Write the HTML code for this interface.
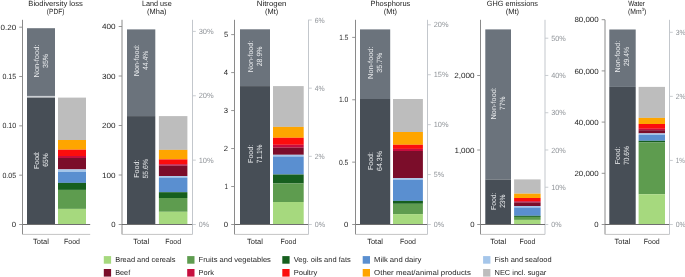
<!DOCTYPE html>
<html><head><meta charset="utf-8"><style>
html,body{margin:0;padding:0;background:#fff;}
body{width:685px;height:277px;overflow:hidden;}
svg{display:block;font-family:'Liberation Sans',sans-serif;will-change:transform;text-rendering:geometricPrecision;}
</style></head><body>
<svg width="685" height="277" viewBox="0 0 685 277" style="font-family:'Liberation Sans',sans-serif">
<rect width="685" height="277" fill="#fff"/>
<line x1="22.5" y1="19.8" x2="22.5" y2="234.4" stroke="#8a8a8a" stroke-width="1"/>
<line x1="22.5" y1="234.4" x2="90.2" y2="234.4" stroke="#c4c4c4" stroke-width="1"/>
<rect x="27" y="28.2" width="28.00" height="67.80" fill="#6b737c"/>
<rect x="27" y="95.9" width="28.00" height="1.7" fill="#cbcfd3"/>
<rect x="27" y="97.6" width="28.00" height="126.90" fill="#474e56"/>
<rect x="58" y="97.6" width="28.00" height="42.40" fill="#bdbdbd"/>
<rect x="58" y="140" width="28.00" height="9.70" fill="#fea500"/>
<rect x="58" y="149.7" width="28.00" height="6.30" fill="#fc0d0d"/>
<rect x="58" y="156" width="28.00" height="2.00" fill="#c70d3e"/>
<rect x="58" y="158" width="28.00" height="11.40" fill="#7b0d2a"/>
<rect x="58" y="169.4" width="28.00" height="2.50" fill="#a5c6ea"/>
<rect x="58" y="171.9" width="28.00" height="11.00" fill="#5a8fd0"/>
<rect x="58" y="182.9" width="28.00" height="7.00" fill="#165f1e"/>
<rect x="58" y="189.9" width="28.00" height="19.00" fill="#5e9c4f"/>
<rect x="58" y="208.9" width="28.00" height="15.60" fill="#a6d97e"/>
<line x1="22.5" y1="224.5" x2="90.2" y2="224.5" stroke="#6f6f6f" stroke-width="1"/>
<line x1="19.2" y1="27.2" x2="22.5" y2="27.2" stroke="#8a8a8a" stroke-width="0.9"/>
<text x="16.10" y="29.80" font-size="7.5" fill="#1e1e1e" text-anchor="end" textLength="15.6" lengthAdjust="spacingAndGlyphs">0.20</text>
<line x1="19.2" y1="76.525" x2="22.5" y2="76.525" stroke="#8a8a8a" stroke-width="0.9"/>
<text x="16.10" y="79.12" font-size="7.5" fill="#1e1e1e" text-anchor="end" textLength="13.7" lengthAdjust="spacingAndGlyphs">0.15</text>
<line x1="19.2" y1="125.85000000000001" x2="22.5" y2="125.85000000000001" stroke="#8a8a8a" stroke-width="0.9"/>
<text x="16.10" y="128.45" font-size="7.5" fill="#1e1e1e" text-anchor="end" textLength="13.7" lengthAdjust="spacingAndGlyphs">0.10</text>
<line x1="19.2" y1="175.175" x2="22.5" y2="175.175" stroke="#8a8a8a" stroke-width="0.9"/>
<text x="16.10" y="177.78" font-size="7.5" fill="#1e1e1e" text-anchor="end" textLength="13.7" lengthAdjust="spacingAndGlyphs">0.05</text>
<line x1="19.2" y1="224.5" x2="22.5" y2="224.5" stroke="#8a8a8a" stroke-width="0.9"/>
<text x="16.10" y="227.10" font-size="7.5" fill="#1e1e1e" text-anchor="end" textLength="4.3" lengthAdjust="spacingAndGlyphs">0</text>
<text x="55.60" y="5.90" font-size="7.5" fill="#222" text-anchor="middle" textLength="54.6" lengthAdjust="spacingAndGlyphs">Biodiversity loss</text>
<text x="55.60" y="13.90" font-size="7.5" fill="#222" text-anchor="middle" textLength="17.5" lengthAdjust="spacingAndGlyphs">(PDF)</text>
<text x="41.00" y="243.60" font-size="7.5" fill="#262626" text-anchor="middle" textLength="15.8" lengthAdjust="spacingAndGlyphs">Total</text>
<text x="72.00" y="243.60" font-size="7.5" fill="#262626" text-anchor="middle" textLength="15.9" lengthAdjust="spacingAndGlyphs">Food</text>
<g transform="translate(38.70,61.00) rotate(-90)"><text x="0" y="0" font-size="7.2" fill="#eceef0" text-anchor="middle" textLength="33.0" lengthAdjust="spacingAndGlyphs">Non-food:</text></g>
<g transform="translate(47.60,61.00) rotate(-90)"><text x="0" y="0" font-size="7.5" fill="#eceef0" text-anchor="middle" textLength="14.00" lengthAdjust="spacingAndGlyphs">35%</text></g>
<g transform="translate(38.70,160.10) rotate(-90)"><text x="0" y="0" font-size="7.2" fill="#eceef0" text-anchor="middle" textLength="17.8" lengthAdjust="spacingAndGlyphs">Food:</text></g>
<g transform="translate(47.60,160.10) rotate(-90)"><text x="0" y="0" font-size="7.5" fill="#eceef0" text-anchor="middle" textLength="13.21" lengthAdjust="spacingAndGlyphs">65%</text></g>
<line x1="122.0" y1="19.8" x2="122.0" y2="234.4" stroke="#8a8a8a" stroke-width="1"/>
<line x1="122.0" y1="234.4" x2="192.5" y2="234.4" stroke="#c4c4c4" stroke-width="1"/>
<line x1="192.5" y1="19.8" x2="192.5" y2="234.4" stroke="#c3c7cc" stroke-width="1"/>
<rect x="127" y="29.4" width="28.30" height="86.70" fill="#6b737c"/>
<rect x="127" y="116.1" width="28.30" height="108.40" fill="#474e56"/>
<rect x="158.9" y="116.1" width="28.50" height="33.80" fill="#bdbdbd"/>
<rect x="158.9" y="149.9" width="28.50" height="9.50" fill="#fea500"/>
<rect x="158.9" y="159.4" width="28.50" height="4.80" fill="#fc0d0d"/>
<rect x="158.9" y="164.2" width="28.50" height="1.40" fill="#c70d3e"/>
<rect x="158.9" y="165.6" width="28.50" height="10.50" fill="#7b0d2a"/>
<rect x="158.9" y="176.1" width="28.50" height="1.50" fill="#a5c6ea"/>
<rect x="158.9" y="177.6" width="28.50" height="14.60" fill="#5a8fd0"/>
<rect x="158.9" y="192.2" width="28.50" height="5.80" fill="#165f1e"/>
<rect x="158.9" y="198" width="28.50" height="13.80" fill="#5e9c4f"/>
<rect x="158.9" y="211.8" width="28.50" height="12.70" fill="#a6d97e"/>
<line x1="122.0" y1="224.5" x2="192.5" y2="224.5" stroke="#6f6f6f" stroke-width="1"/>
<line x1="118.7" y1="26.5" x2="122.0" y2="26.5" stroke="#8a8a8a" stroke-width="0.9"/>
<text x="115.60" y="29.10" font-size="7.5" fill="#1e1e1e" text-anchor="end" textLength="13.6" lengthAdjust="spacingAndGlyphs">400</text>
<line x1="118.7" y1="76.0" x2="122.0" y2="76.0" stroke="#8a8a8a" stroke-width="0.9"/>
<text x="115.60" y="78.60" font-size="7.5" fill="#1e1e1e" text-anchor="end" textLength="13.6" lengthAdjust="spacingAndGlyphs">300</text>
<line x1="118.7" y1="125.5" x2="122.0" y2="125.5" stroke="#8a8a8a" stroke-width="0.9"/>
<text x="115.60" y="128.10" font-size="7.5" fill="#1e1e1e" text-anchor="end" textLength="13.6" lengthAdjust="spacingAndGlyphs">200</text>
<line x1="118.7" y1="175.0" x2="122.0" y2="175.0" stroke="#8a8a8a" stroke-width="0.9"/>
<text x="115.60" y="177.60" font-size="7.5" fill="#1e1e1e" text-anchor="end" textLength="13.6" lengthAdjust="spacingAndGlyphs">100</text>
<line x1="118.7" y1="224.5" x2="122.0" y2="224.5" stroke="#8a8a8a" stroke-width="0.9"/>
<text x="115.60" y="227.10" font-size="7.5" fill="#1e1e1e" text-anchor="end" textLength="4.3" lengthAdjust="spacingAndGlyphs">0</text>
<line x1="192.5" y1="31.4" x2="195.8" y2="31.4" stroke="#c3c7cc" stroke-width="0.9"/>
<text x="198.70" y="34.00" font-size="7.5" fill="#909499" text-anchor="start" textLength="15.0" lengthAdjust="spacingAndGlyphs">30%</text>
<line x1="192.5" y1="95.76666666666665" x2="195.8" y2="95.76666666666665" stroke="#c3c7cc" stroke-width="0.9"/>
<text x="198.70" y="98.37" font-size="7.5" fill="#909499" text-anchor="start" textLength="15.0" lengthAdjust="spacingAndGlyphs">20%</text>
<line x1="192.5" y1="160.13333333333333" x2="195.8" y2="160.13333333333333" stroke="#c3c7cc" stroke-width="0.9"/>
<text x="198.70" y="162.73" font-size="7.5" fill="#909499" text-anchor="start" textLength="15.0" lengthAdjust="spacingAndGlyphs">10%</text>
<line x1="192.5" y1="224.49999999999997" x2="195.8" y2="224.49999999999997" stroke="#c3c7cc" stroke-width="0.9"/>
<text x="198.70" y="227.10" font-size="7.5" fill="#909499" text-anchor="start" textLength="10.3" lengthAdjust="spacingAndGlyphs">0%</text>
<text x="156.80" y="5.90" font-size="7.5" fill="#222" text-anchor="middle" textLength="29.8" lengthAdjust="spacingAndGlyphs">Land use</text>
<text x="156.80" y="13.90" font-size="7.5" fill="#222" text-anchor="middle" textLength="19.4" lengthAdjust="spacingAndGlyphs">(Mha)</text>
<text x="141.15" y="243.60" font-size="7.5" fill="#262626" text-anchor="middle" textLength="15.8" lengthAdjust="spacingAndGlyphs">Total</text>
<text x="173.15" y="243.60" font-size="7.5" fill="#262626" text-anchor="middle" textLength="15.9" lengthAdjust="spacingAndGlyphs">Food</text>
<g transform="translate(138.85,60.30) rotate(-90)"><text x="0" y="0" font-size="7.2" fill="#eceef0" text-anchor="middle" textLength="32.0" lengthAdjust="spacingAndGlyphs">Non-food:</text></g>
<g transform="translate(147.75,60.30) rotate(-90)"><text x="0" y="0" font-size="7.5" fill="#eceef0" text-anchor="middle" textLength="19.50" lengthAdjust="spacingAndGlyphs">44.4%</text></g>
<g transform="translate(138.85,168.70) rotate(-90)"><text x="0" y="0" font-size="7.2" fill="#eceef0" text-anchor="middle" textLength="18.0" lengthAdjust="spacingAndGlyphs">Food:</text></g>
<g transform="translate(147.75,168.70) rotate(-90)"><text x="0" y="0" font-size="7.5" fill="#eceef0" text-anchor="middle" textLength="19.50" lengthAdjust="spacingAndGlyphs">55.6%</text></g>
<line x1="234.5" y1="19.8" x2="234.5" y2="234.4" stroke="#8a8a8a" stroke-width="1"/>
<line x1="234.5" y1="234.4" x2="308.5" y2="234.4" stroke="#c4c4c4" stroke-width="1"/>
<line x1="308.5" y1="19.8" x2="308.5" y2="234.4" stroke="#c3c7cc" stroke-width="1"/>
<rect x="240" y="29.3" width="30.00" height="56.80" fill="#6b737c"/>
<rect x="240" y="86.1" width="30.00" height="138.40" fill="#474e56"/>
<rect x="273" y="86.1" width="30.70" height="40.80" fill="#bdbdbd"/>
<rect x="273" y="126.9" width="30.70" height="10.90" fill="#fea500"/>
<rect x="273" y="137.8" width="30.70" height="7.00" fill="#fc0d0d"/>
<rect x="273" y="144.8" width="30.70" height="2.90" fill="#c70d3e"/>
<rect x="273" y="147.7" width="30.70" height="7.10" fill="#7b0d2a"/>
<rect x="273" y="154.8" width="30.70" height="1.70" fill="#a5c6ea"/>
<rect x="273" y="156.5" width="30.70" height="18.00" fill="#5a8fd0"/>
<rect x="273" y="174.5" width="30.70" height="9.00" fill="#165f1e"/>
<rect x="273" y="183.5" width="30.70" height="18.50" fill="#5e9c4f"/>
<rect x="273" y="202" width="30.70" height="22.50" fill="#a6d97e"/>
<line x1="234.5" y1="224.5" x2="308.5" y2="224.5" stroke="#6f6f6f" stroke-width="1"/>
<line x1="231.2" y1="34.6" x2="234.5" y2="34.6" stroke="#8a8a8a" stroke-width="0.9"/>
<text x="228.10" y="37.20" font-size="7.5" fill="#1e1e1e" text-anchor="end" textLength="4.2" lengthAdjust="spacingAndGlyphs">5</text>
<line x1="231.2" y1="72.58000000000001" x2="234.5" y2="72.58000000000001" stroke="#8a8a8a" stroke-width="0.9"/>
<text x="228.10" y="75.18" font-size="7.5" fill="#1e1e1e" text-anchor="end" textLength="4.3" lengthAdjust="spacingAndGlyphs">4</text>
<line x1="231.2" y1="110.56" x2="234.5" y2="110.56" stroke="#8a8a8a" stroke-width="0.9"/>
<text x="228.10" y="113.16" font-size="7.5" fill="#1e1e1e" text-anchor="end" textLength="4.3" lengthAdjust="spacingAndGlyphs">3</text>
<line x1="231.2" y1="148.54000000000002" x2="234.5" y2="148.54000000000002" stroke="#8a8a8a" stroke-width="0.9"/>
<text x="228.10" y="151.14" font-size="7.5" fill="#1e1e1e" text-anchor="end" textLength="4.3" lengthAdjust="spacingAndGlyphs">2</text>
<line x1="231.2" y1="186.52" x2="234.5" y2="186.52" stroke="#8a8a8a" stroke-width="0.9"/>
<text x="228.10" y="189.12" font-size="7.5" fill="#1e1e1e" text-anchor="end" textLength="3.5" lengthAdjust="spacingAndGlyphs">1</text>
<line x1="231.2" y1="224.50000000000003" x2="234.5" y2="224.50000000000003" stroke="#8a8a8a" stroke-width="0.9"/>
<text x="228.10" y="227.10" font-size="7.5" fill="#1e1e1e" text-anchor="end" textLength="4.3" lengthAdjust="spacingAndGlyphs">0</text>
<line x1="308.5" y1="20.0" x2="311.8" y2="20.0" stroke="#c3c7cc" stroke-width="0.9"/>
<text x="314.70" y="22.60" font-size="7.5" fill="#909499" text-anchor="start" textLength="10.0" lengthAdjust="spacingAndGlyphs">6%</text>
<line x1="308.5" y1="88.16666666666667" x2="311.8" y2="88.16666666666667" stroke="#c3c7cc" stroke-width="0.9"/>
<text x="314.70" y="90.77" font-size="7.5" fill="#909499" text-anchor="start" textLength="10.0" lengthAdjust="spacingAndGlyphs">4%</text>
<line x1="308.5" y1="156.33333333333334" x2="311.8" y2="156.33333333333334" stroke="#c3c7cc" stroke-width="0.9"/>
<text x="314.70" y="158.93" font-size="7.5" fill="#909499" text-anchor="start" textLength="10.0" lengthAdjust="spacingAndGlyphs">2%</text>
<line x1="308.5" y1="224.5" x2="311.8" y2="224.5" stroke="#c3c7cc" stroke-width="0.9"/>
<text x="314.70" y="227.10" font-size="7.5" fill="#909499" text-anchor="start" textLength="10.3" lengthAdjust="spacingAndGlyphs">0%</text>
<text x="271.60" y="5.90" font-size="7.5" fill="#222" text-anchor="middle" textLength="29.6" lengthAdjust="spacingAndGlyphs">Nitrogen</text>
<text x="271.60" y="13.90" font-size="7.5" fill="#222" text-anchor="middle" textLength="13.2" lengthAdjust="spacingAndGlyphs">(Mt)</text>
<text x="255.00" y="243.60" font-size="7.5" fill="#262626" text-anchor="middle" textLength="15.8" lengthAdjust="spacingAndGlyphs">Total</text>
<text x="288.35" y="243.60" font-size="7.5" fill="#262626" text-anchor="middle" textLength="15.9" lengthAdjust="spacingAndGlyphs">Food</text>
<g transform="translate(252.70,56.40) rotate(-90)"><text x="0" y="0" font-size="7.2" fill="#eceef0" text-anchor="middle" textLength="31.5" lengthAdjust="spacingAndGlyphs">Non-food:</text></g>
<g transform="translate(261.60,56.40) rotate(-90)"><text x="0" y="0" font-size="7.5" fill="#eceef0" text-anchor="middle" textLength="19.90" lengthAdjust="spacingAndGlyphs">28.9%</text></g>
<g transform="translate(252.70,153.90) rotate(-90)"><text x="0" y="0" font-size="7.2" fill="#eceef0" text-anchor="middle" textLength="18.0" lengthAdjust="spacingAndGlyphs">Food:</text></g>
<g transform="translate(261.60,153.90) rotate(-90)"><text x="0" y="0" font-size="7.5" fill="#eceef0" text-anchor="middle" textLength="18.71" lengthAdjust="spacingAndGlyphs">71.1%</text></g>
<line x1="355.5" y1="19.8" x2="355.5" y2="234.4" stroke="#8a8a8a" stroke-width="1"/>
<line x1="355.5" y1="234.4" x2="427.5" y2="234.4" stroke="#c4c4c4" stroke-width="1"/>
<line x1="427.5" y1="19.8" x2="427.5" y2="234.4" stroke="#c3c7cc" stroke-width="1"/>
<rect x="360" y="29.4" width="30.20" height="69.60" fill="#6b737c"/>
<rect x="360" y="99" width="30.20" height="125.50" fill="#474e56"/>
<rect x="393" y="99" width="29.90" height="33.00" fill="#bdbdbd"/>
<rect x="393" y="132" width="29.90" height="12.80" fill="#fea500"/>
<rect x="393" y="144.8" width="29.90" height="4.10" fill="#fc0d0d"/>
<rect x="393" y="148.9" width="29.90" height="2.10" fill="#c70d3e"/>
<rect x="393" y="151" width="29.90" height="27.20" fill="#7b0d2a"/>
<rect x="393" y="178.2" width="29.90" height="1.60" fill="#a5c6ea"/>
<rect x="393" y="179.8" width="29.90" height="21.10" fill="#5a8fd0"/>
<rect x="393" y="200.9" width="29.90" height="2.90" fill="#165f1e"/>
<rect x="393" y="203.8" width="29.90" height="10.30" fill="#5e9c4f"/>
<rect x="393" y="214.1" width="29.90" height="10.40" fill="#a6d97e"/>
<line x1="355.5" y1="224.5" x2="427.5" y2="224.5" stroke="#6f6f6f" stroke-width="1"/>
<line x1="352.2" y1="37.4" x2="355.5" y2="37.4" stroke="#8a8a8a" stroke-width="0.9"/>
<text x="348.30" y="40.00" font-size="7.5" fill="#1e1e1e" text-anchor="end" textLength="9.0" lengthAdjust="spacingAndGlyphs">1.5</text>
<line x1="352.2" y1="99.76666666666667" x2="355.5" y2="99.76666666666667" stroke="#8a8a8a" stroke-width="0.9"/>
<text x="348.30" y="102.37" font-size="7.5" fill="#1e1e1e" text-anchor="end" textLength="9.4" lengthAdjust="spacingAndGlyphs">1.0</text>
<line x1="352.2" y1="162.13333333333333" x2="355.5" y2="162.13333333333333" stroke="#8a8a8a" stroke-width="0.9"/>
<text x="348.30" y="164.73" font-size="7.5" fill="#1e1e1e" text-anchor="end" textLength="9.4" lengthAdjust="spacingAndGlyphs">0.5</text>
<line x1="352.2" y1="224.5" x2="355.5" y2="224.5" stroke="#8a8a8a" stroke-width="0.9"/>
<text x="348.30" y="227.10" font-size="7.5" fill="#1e1e1e" text-anchor="end" textLength="4.3" lengthAdjust="spacingAndGlyphs">0</text>
<line x1="427.5" y1="24.8" x2="430.8" y2="24.8" stroke="#c3c7cc" stroke-width="0.9"/>
<text x="433.70" y="27.40" font-size="7.5" fill="#909499" text-anchor="start" textLength="14.8" lengthAdjust="spacingAndGlyphs">20%</text>
<line x1="427.5" y1="74.725" x2="430.8" y2="74.725" stroke="#c3c7cc" stroke-width="0.9"/>
<text x="433.70" y="77.32" font-size="7.5" fill="#909499" text-anchor="start" textLength="14.8" lengthAdjust="spacingAndGlyphs">15%</text>
<line x1="427.5" y1="124.64999999999999" x2="430.8" y2="124.64999999999999" stroke="#c3c7cc" stroke-width="0.9"/>
<text x="433.70" y="127.25" font-size="7.5" fill="#909499" text-anchor="start" textLength="14.8" lengthAdjust="spacingAndGlyphs">10%</text>
<line x1="427.5" y1="174.575" x2="430.8" y2="174.575" stroke="#c3c7cc" stroke-width="0.9"/>
<text x="433.70" y="177.17" font-size="7.5" fill="#909499" text-anchor="start" textLength="10.3" lengthAdjust="spacingAndGlyphs">5%</text>
<line x1="427.5" y1="224.5" x2="430.8" y2="224.5" stroke="#c3c7cc" stroke-width="0.9"/>
<text x="433.70" y="227.10" font-size="7.5" fill="#909499" text-anchor="start" textLength="10.3" lengthAdjust="spacingAndGlyphs">0%</text>
<text x="390.40" y="5.90" font-size="7.5" fill="#222" text-anchor="middle" textLength="39.8" lengthAdjust="spacingAndGlyphs">Phosphorus</text>
<text x="390.40" y="13.90" font-size="7.5" fill="#222" text-anchor="middle" textLength="13.2" lengthAdjust="spacingAndGlyphs">(Mt)</text>
<text x="375.10" y="243.60" font-size="7.5" fill="#262626" text-anchor="middle" textLength="15.8" lengthAdjust="spacingAndGlyphs">Total</text>
<text x="407.95" y="243.60" font-size="7.5" fill="#262626" text-anchor="middle" textLength="15.9" lengthAdjust="spacingAndGlyphs">Food</text>
<g transform="translate(372.80,62.70) rotate(-90)"><text x="0" y="0" font-size="7.2" fill="#eceef0" text-anchor="middle" textLength="32.5" lengthAdjust="spacingAndGlyphs">Non-food:</text></g>
<g transform="translate(381.70,62.70) rotate(-90)"><text x="0" y="0" font-size="7.5" fill="#eceef0" text-anchor="middle" textLength="19.90" lengthAdjust="spacingAndGlyphs">35.7%</text></g>
<g transform="translate(372.80,161.00) rotate(-90)"><text x="0" y="0" font-size="7.2" fill="#eceef0" text-anchor="middle" textLength="18.0" lengthAdjust="spacingAndGlyphs">Food:</text></g>
<g transform="translate(381.70,161.00) rotate(-90)"><text x="0" y="0" font-size="7.5" fill="#eceef0" text-anchor="middle" textLength="19.80" lengthAdjust="spacingAndGlyphs">64.3%</text></g>
<line x1="480.5" y1="19.8" x2="480.5" y2="234.4" stroke="#8a8a8a" stroke-width="1"/>
<line x1="480.5" y1="234.4" x2="545.0" y2="234.4" stroke="#c4c4c4" stroke-width="1"/>
<line x1="545.0" y1="19.8" x2="545.0" y2="234.4" stroke="#c3c7cc" stroke-width="1"/>
<rect x="485.3" y="29.4" width="25.70" height="150.20" fill="#6b737c"/>
<rect x="485.3" y="179.6" width="25.70" height="44.90" fill="#474e56"/>
<rect x="514.1" y="179.4" width="26.50" height="14.30" fill="#bdbdbd"/>
<rect x="514.1" y="193.7" width="26.50" height="4.30" fill="#fea500"/>
<rect x="514.1" y="198" width="26.50" height="3.20" fill="#fc0d0d"/>
<rect x="514.1" y="201.2" width="26.50" height="1.20" fill="#c70d3e"/>
<rect x="514.1" y="202.4" width="26.50" height="3.60" fill="#7b0d2a"/>
<rect x="514.1" y="206" width="26.50" height="1.50" fill="#a5c6ea"/>
<rect x="514.1" y="207.5" width="26.50" height="8.30" fill="#5a8fd0"/>
<rect x="514.1" y="215.8" width="26.50" height="1.10" fill="#165f1e"/>
<rect x="514.1" y="216.9" width="26.50" height="3.00" fill="#5e9c4f"/>
<rect x="514.1" y="219.9" width="26.50" height="4.60" fill="#a6d97e"/>
<line x1="480.5" y1="224.5" x2="545.0" y2="224.5" stroke="#6f6f6f" stroke-width="1"/>
<line x1="477.2" y1="75.5" x2="480.5" y2="75.5" stroke="#8a8a8a" stroke-width="0.9"/>
<text x="474.60" y="78.10" font-size="7.5" fill="#1e1e1e" text-anchor="end" textLength="20.4" lengthAdjust="spacingAndGlyphs">2,000</text>
<line x1="477.2" y1="150.0" x2="480.5" y2="150.0" stroke="#8a8a8a" stroke-width="0.9"/>
<text x="474.60" y="152.60" font-size="7.5" fill="#1e1e1e" text-anchor="end" textLength="20.2" lengthAdjust="spacingAndGlyphs">1,000</text>
<line x1="477.2" y1="224.5" x2="480.5" y2="224.5" stroke="#8a8a8a" stroke-width="0.9"/>
<text x="474.60" y="227.10" font-size="7.5" fill="#1e1e1e" text-anchor="end" textLength="4.3" lengthAdjust="spacingAndGlyphs">0</text>
<line x1="545.0" y1="38.2" x2="548.3" y2="38.2" stroke="#c3c7cc" stroke-width="0.9"/>
<text x="551.20" y="40.80" font-size="7.5" fill="#909499" text-anchor="start" textLength="14.6" lengthAdjust="spacingAndGlyphs">50%</text>
<line x1="545.0" y1="75.46000000000001" x2="548.3" y2="75.46000000000001" stroke="#c3c7cc" stroke-width="0.9"/>
<text x="551.20" y="78.06" font-size="7.5" fill="#909499" text-anchor="start" textLength="14.6" lengthAdjust="spacingAndGlyphs">40%</text>
<line x1="545.0" y1="112.72000000000001" x2="548.3" y2="112.72000000000001" stroke="#c3c7cc" stroke-width="0.9"/>
<text x="551.20" y="115.32" font-size="7.5" fill="#909499" text-anchor="start" textLength="14.6" lengthAdjust="spacingAndGlyphs">30%</text>
<line x1="545.0" y1="149.98000000000002" x2="548.3" y2="149.98000000000002" stroke="#c3c7cc" stroke-width="0.9"/>
<text x="551.20" y="152.58" font-size="7.5" fill="#909499" text-anchor="start" textLength="14.6" lengthAdjust="spacingAndGlyphs">20%</text>
<line x1="545.0" y1="187.24" x2="548.3" y2="187.24" stroke="#c3c7cc" stroke-width="0.9"/>
<text x="551.20" y="189.84" font-size="7.5" fill="#909499" text-anchor="start" textLength="14.6" lengthAdjust="spacingAndGlyphs">10%</text>
<line x1="545.0" y1="224.5" x2="548.3" y2="224.5" stroke="#c3c7cc" stroke-width="0.9"/>
<text x="551.20" y="227.10" font-size="7.5" fill="#909499" text-anchor="start" textLength="10.3" lengthAdjust="spacingAndGlyphs">0%</text>
<text x="512.40" y="5.90" font-size="7.5" fill="#222" text-anchor="middle" textLength="51.1" lengthAdjust="spacingAndGlyphs">GHG emissions</text>
<text x="512.40" y="13.90" font-size="7.5" fill="#222" text-anchor="middle" textLength="13.3" lengthAdjust="spacingAndGlyphs">(Mt)</text>
<text x="498.15" y="243.60" font-size="7.5" fill="#262626" text-anchor="middle" textLength="15.8" lengthAdjust="spacingAndGlyphs">Total</text>
<text x="527.35" y="243.60" font-size="7.5" fill="#262626" text-anchor="middle" textLength="15.9" lengthAdjust="spacingAndGlyphs">Food</text>
<g transform="translate(495.85,103.30) rotate(-90)"><text x="0" y="0" font-size="7.2" fill="#eceef0" text-anchor="middle" textLength="32.3" lengthAdjust="spacingAndGlyphs">Non-food:</text></g>
<g transform="translate(504.75,103.30) rotate(-90)"><text x="0" y="0" font-size="7.5" fill="#eceef0" text-anchor="middle" textLength="13.21" lengthAdjust="spacingAndGlyphs">77%</text></g>
<g transform="translate(495.85,201.20) rotate(-90)"><text x="0" y="0" font-size="7.2" fill="#eceef0" text-anchor="middle" textLength="17.6" lengthAdjust="spacingAndGlyphs">Food:</text></g>
<g transform="translate(504.75,201.20) rotate(-90)"><text x="0" y="0" font-size="7.5" fill="#eceef0" text-anchor="middle" textLength="13.21" lengthAdjust="spacingAndGlyphs">23%</text></g>
<line x1="605.0" y1="19.8" x2="605.0" y2="234.4" stroke="#8a8a8a" stroke-width="1"/>
<line x1="605.0" y1="234.4" x2="669.5" y2="234.4" stroke="#c4c4c4" stroke-width="1"/>
<line x1="669.5" y1="19.8" x2="669.5" y2="234.4" stroke="#c3c7cc" stroke-width="1"/>
<rect x="609.3" y="29.5" width="26.40" height="57.40" fill="#6b737c"/>
<rect x="609.3" y="86.9" width="26.40" height="137.60" fill="#474e56"/>
<rect x="638.6" y="86.9" width="26.40" height="31.00" fill="#bdbdbd"/>
<rect x="638.6" y="117.9" width="26.40" height="6.10" fill="#fea500"/>
<rect x="638.6" y="124" width="26.40" height="4.80" fill="#fc0d0d"/>
<rect x="638.6" y="128.8" width="26.40" height="1.40" fill="#c70d3e"/>
<rect x="638.6" y="130.2" width="26.40" height="3.20" fill="#7b0d2a"/>
<rect x="638.6" y="133.4" width="26.40" height="1.40" fill="#a5c6ea"/>
<rect x="638.6" y="134.8" width="26.40" height="6.00" fill="#5a8fd0"/>
<rect x="638.6" y="140.8" width="26.40" height="1.70" fill="#165f1e"/>
<rect x="638.6" y="142.5" width="26.40" height="51.70" fill="#5e9c4f"/>
<rect x="638.6" y="194.2" width="26.40" height="30.30" fill="#a6d97e"/>
<line x1="605.0" y1="224.5" x2="669.5" y2="224.5" stroke="#6f6f6f" stroke-width="1"/>
<line x1="601.7" y1="19.7" x2="605.0" y2="19.7" stroke="#8a8a8a" stroke-width="0.9"/>
<text x="598.60" y="22.30" font-size="7.5" fill="#1e1e1e" text-anchor="end" textLength="24.2" lengthAdjust="spacingAndGlyphs">80,000</text>
<line x1="601.7" y1="70.9" x2="605.0" y2="70.9" stroke="#8a8a8a" stroke-width="0.9"/>
<text x="598.60" y="73.50" font-size="7.5" fill="#1e1e1e" text-anchor="end" textLength="24.2" lengthAdjust="spacingAndGlyphs">60,000</text>
<line x1="601.7" y1="122.10000000000001" x2="605.0" y2="122.10000000000001" stroke="#8a8a8a" stroke-width="0.9"/>
<text x="598.60" y="124.70" font-size="7.5" fill="#1e1e1e" text-anchor="end" textLength="24.2" lengthAdjust="spacingAndGlyphs">40,000</text>
<line x1="601.7" y1="173.3" x2="605.0" y2="173.3" stroke="#8a8a8a" stroke-width="0.9"/>
<text x="598.60" y="175.90" font-size="7.5" fill="#1e1e1e" text-anchor="end" textLength="24.2" lengthAdjust="spacingAndGlyphs">20,000</text>
<line x1="601.7" y1="224.5" x2="605.0" y2="224.5" stroke="#8a8a8a" stroke-width="0.9"/>
<text x="598.60" y="227.10" font-size="7.5" fill="#1e1e1e" text-anchor="end" textLength="4.3" lengthAdjust="spacingAndGlyphs">0</text>
<line x1="669.5" y1="32.3" x2="672.8" y2="32.3" stroke="#c3c7cc" stroke-width="0.9"/>
<text x="675.70" y="34.90" font-size="7.5" fill="#909499" text-anchor="start" textLength="10.0" lengthAdjust="spacingAndGlyphs">3%</text>
<line x1="669.5" y1="96.36666666666666" x2="672.8" y2="96.36666666666666" stroke="#c3c7cc" stroke-width="0.9"/>
<text x="675.70" y="98.97" font-size="7.5" fill="#909499" text-anchor="start" textLength="10.0" lengthAdjust="spacingAndGlyphs">2%</text>
<line x1="669.5" y1="160.43333333333334" x2="672.8" y2="160.43333333333334" stroke="#c3c7cc" stroke-width="0.9"/>
<text x="675.70" y="163.03" font-size="7.5" fill="#909499" text-anchor="start" textLength="9.0" lengthAdjust="spacingAndGlyphs">1%</text>
<line x1="669.5" y1="224.5" x2="672.8" y2="224.5" stroke="#c3c7cc" stroke-width="0.9"/>
<text x="675.70" y="227.10" font-size="7.5" fill="#909499" text-anchor="start" textLength="10.0" lengthAdjust="spacingAndGlyphs">0%</text>
<text x="636.60" y="5.90" font-size="7.5" fill="#222" text-anchor="middle" textLength="16.8" lengthAdjust="spacingAndGlyphs">Water</text>
<text x="637.20" y="13.9" font-size="7.5" fill="#222" text-anchor="middle" textLength="18.2" lengthAdjust="spacingAndGlyphs">(Mm<tspan font-size="4.5" dy="-3">3</tspan><tspan dy="3">)</tspan></text>
<text x="622.50" y="243.60" font-size="7.5" fill="#262626" text-anchor="middle" textLength="15.8" lengthAdjust="spacingAndGlyphs">Total</text>
<text x="651.80" y="243.60" font-size="7.5" fill="#262626" text-anchor="middle" textLength="15.9" lengthAdjust="spacingAndGlyphs">Food</text>
<g transform="translate(620.20,56.60) rotate(-90)"><text x="0" y="0" font-size="7.2" fill="#eceef0" text-anchor="middle" textLength="31.6" lengthAdjust="spacingAndGlyphs">Non-food:</text></g>
<g transform="translate(629.10,56.60) rotate(-90)"><text x="0" y="0" font-size="7.5" fill="#eceef0" text-anchor="middle" textLength="19.00" lengthAdjust="spacingAndGlyphs">29.4%</text></g>
<g transform="translate(620.20,155.50) rotate(-90)"><text x="0" y="0" font-size="7.2" fill="#eceef0" text-anchor="middle" textLength="17.6" lengthAdjust="spacingAndGlyphs">Food:</text></g>
<g transform="translate(629.10,155.50) rotate(-90)"><text x="0" y="0" font-size="7.5" fill="#eceef0" text-anchor="middle" textLength="18.71" lengthAdjust="spacingAndGlyphs">70.6%</text></g>
<rect x="103.8" y="256.1" width="7.3" height="7.6" fill="#a6d97e"/>
<text x="115.20" y="262.00" font-size="7.3" fill="#262626" text-anchor="start" textLength="60.3" lengthAdjust="spacingAndGlyphs">Bread and cereals</text>
<rect x="103.8" y="269.0" width="7.3" height="7.6" fill="#7b0d2a"/>
<text x="115.20" y="274.90" font-size="7.3" fill="#262626" text-anchor="start" textLength="15.0" lengthAdjust="spacingAndGlyphs">Beef</text>
<rect x="187.2" y="256.1" width="7.3" height="7.6" fill="#5e9c4f"/>
<text x="198.60" y="262.00" font-size="7.3" fill="#262626" text-anchor="start" textLength="72.3" lengthAdjust="spacingAndGlyphs">Fruits and vegetables</text>
<rect x="187.2" y="269.0" width="7.3" height="7.6" fill="#c70d3e"/>
<text x="198.60" y="274.90" font-size="7.3" fill="#262626" text-anchor="start" textLength="15.3" lengthAdjust="spacingAndGlyphs">Pork</text>
<rect x="282.3" y="256.1" width="7.3" height="7.6" fill="#165f1e"/>
<text x="293.70" y="262.00" font-size="7.3" fill="#262626" text-anchor="start" textLength="57.1" lengthAdjust="spacingAndGlyphs">Veg. oils and fats</text>
<rect x="282.3" y="269.0" width="7.3" height="7.6" fill="#fc0d0d"/>
<text x="293.70" y="274.90" font-size="7.3" fill="#262626" text-anchor="start" textLength="23.5" lengthAdjust="spacingAndGlyphs">Poultry</text>
<rect x="362.7" y="256.1" width="7.3" height="7.6" fill="#5a8fd0"/>
<text x="374.10" y="262.00" font-size="7.3" fill="#262626" text-anchor="start" textLength="47.3" lengthAdjust="spacingAndGlyphs">Milk and dairy</text>
<rect x="362.7" y="269.0" width="7.3" height="7.6" fill="#fea500"/>
<text x="374.10" y="274.90" font-size="7.3" fill="#262626" text-anchor="start" textLength="96.9" lengthAdjust="spacingAndGlyphs">Other meat/animal products</text>
<rect x="483.1" y="256.1" width="7.3" height="7.6" fill="#a5c6ea"/>
<text x="494.50" y="262.00" font-size="7.3" fill="#262626" text-anchor="start" textLength="57.1" lengthAdjust="spacingAndGlyphs">Fish and seafood</text>
<rect x="483.1" y="269.0" width="7.3" height="7.6" fill="#bdbdbd"/>
<text x="494.50" y="274.90" font-size="7.3" fill="#262626" text-anchor="start" textLength="51.8" lengthAdjust="spacingAndGlyphs">NEC incl. sugar</text>
</svg>
</body></html>
